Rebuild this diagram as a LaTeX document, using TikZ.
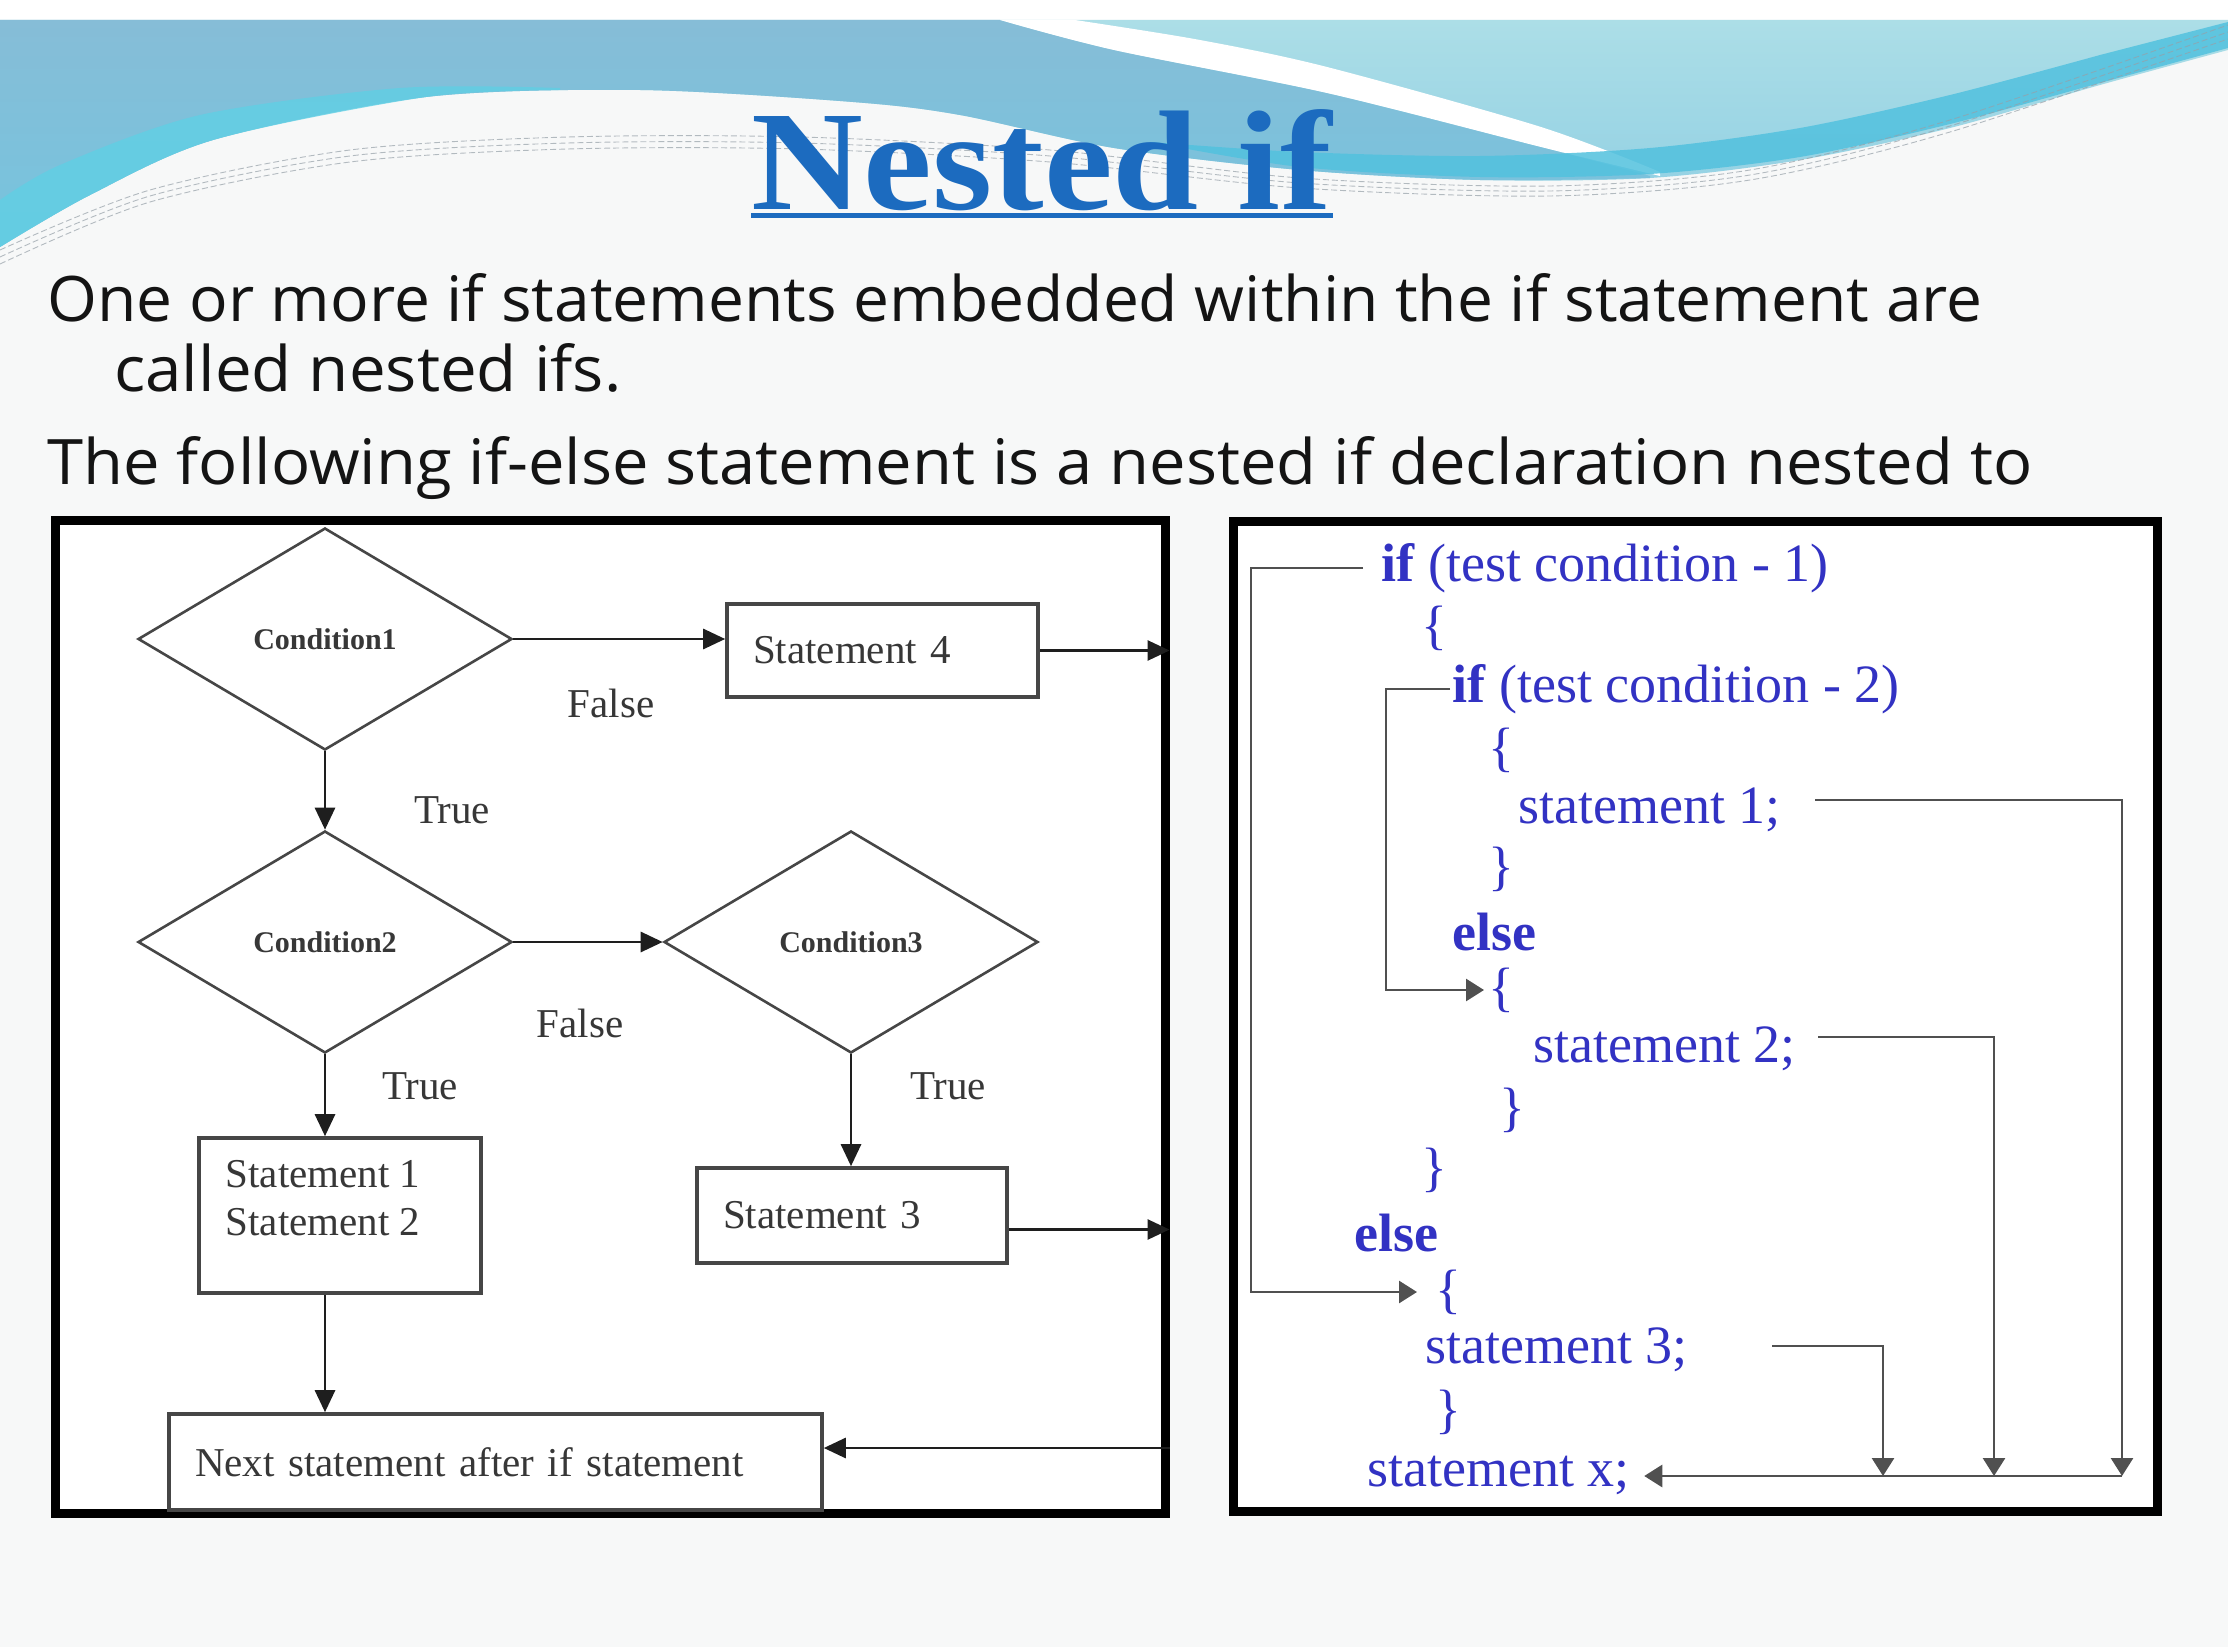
\documentclass[tikz,border=0pt]{standalone}
\usepackage{fontspec}
\setmainfont{Liberation Serif}
\newfontfamily\bodyfont{Open Sans}
\usepackage{graphicx}
\usetikzlibrary{shapes.geometric,arrows.meta,calc}

\definecolor{pagebg}{RGB}{247,248,248}
\definecolor{bannerblue}{RGB}{134,189,215}
\definecolor{bannerblue2}{RGB}{118,196,222}
\definecolor{lightcyan}{RGB}{172,222,231}
\definecolor{lightcyan2}{RGB}{140,205,226}
\definecolor{cyanband}{RGB}{82,193,222}
\definecolor{leftcyan}{RGB}{96,207,228}
\definecolor{decoline}{RGB}{150,160,168}
\definecolor{titleblue}{RGB}{28,107,191}
\definecolor{bodyblack}{RGB}{20,20,20}
\definecolor{flowgray}{RGB}{55,55,55}
\definecolor{flowline}{RGB}{70,70,70}
\definecolor{flowarrow}{RGB}{30,30,30}
\definecolor{codeblue}{RGB}{50,50,195}
\definecolor{codeline}{RGB}{80,80,80}

\begin{document}
\begin{tikzpicture}[x=0.5pt,y=-0.5pt,
  outerframe/.style={draw=black, line width=4.5pt, fill=white, inner sep=0pt},
  dia/.style={diamond, draw=flowline, line width=1.3pt, fill=white, minimum width=187pt, minimum height=111pt, inner sep=0pt, font=\bfseries\fontsize{15}{18}\selectfont, text=flowgray},
  flowbox/.style={rectangle, draw=flowline, line width=1.8pt, fill=white, inner xsep=13pt, inner ysep=0pt, align=left, font=\fontsize{20.5}{24}\selectfont, text=flowgray},
  flowtxt/.style={font=\fontsize{20.5}{24}\selectfont, text=flowgray, inner sep=0pt},
  farr/.style={draw=flowarrow, line width=1.4pt, -{Triangle[length=11pt,width=10pt]}},
  codetxt/.style={anchor=west, inner sep=0pt, text=codeblue, font=\fontsize{27}{32}\selectfont},
  cline/.style={draw=codeline, line width=1.4pt},
  ctip/.style={-{Triangle[length=9pt,width=11pt]}},
  bodytxt/.style={anchor=base west, inner sep=0pt, text=bodyblack},
  deco/.style={draw=decoline, line width=0.45pt, opacity=0.7, dash pattern=on 3pt off 1.5pt}
]
\useasboundingbox (0,0) rectangle (2228,1647);
\fill[pagebg] (0,0) rectangle (2228,1647);
\fill[white] (0,0) rectangle (2228,20);

% ---------- banner ----------
\shade[top color=lightcyan, bottom color=lightcyan2] (0,20) -- (2228,20) --
  plot[smooth] coordinates {(2228,50) (2100,85) (1950,128) (1800,160) (1650,178) (1480,180) (1300,170) (1114,148) (960,115) (853,102) (640,90) (426,97) (213,140) (90,195) (0,247)} -- cycle;
\shade[top color=bannerblue, bottom color=bannerblue2] (0,20) -- (1000,20) --
  plot[smooth] coordinates {(1000,20) (1114,50) (1327,93) (1541,147) (1650,176)} --
  plot[smooth] coordinates {(1650,178) (1480,180) (1300,170) (1114,148) (960,115) (853,102) (640,90) (426,97) (213,140) (90,195) (0,247)} -- cycle;
\fill[white] plot[smooth] coordinates {(1000,20) (1114,50) (1327,93) (1541,147) (1660,176)} --
  plot[smooth] coordinates {(1660,172) (1541,127) (1327,67) (1200,40) (1075,20)} -- cycle;
\fill[leftcyan, opacity=0.8] plot[smooth] coordinates {(0,247) (90,195) (213,140) (426,97) (560,90)} --
  plot[smooth] coordinates {(560,88) (400,88) (200,115) (60,165) (0,200)} -- cycle;
\fill[cyanband, opacity=0.85] plot[smooth] coordinates {(1150,142) (1300,167) (1480,177) (1650,174) (1800,157) (1950,124) (2100,83) (2228,48)} --
  (2228,22) -- plot[smooth] coordinates {(2100,55) (1950,95) (1800,128) (1650,148) (1480,156) (1300,152) (1150,142)} -- cycle;
\draw[deco] plot[smooth] coordinates {(0,250) (150,190) (350,150) (568,137) (800,137) (1050,150) (1300,178) (1550,186) (1750,170) (1950,120) (2228,25)};
\draw[deco] plot[smooth] coordinates {(0,257) (150,196) (350,156) (568,143) (800,143) (1050,156) (1300,183) (1550,191) (1750,175) (1950,126) (2228,32)};
\draw[deco] plot[smooth] coordinates {(0,264) (150,202) (350,162) (568,149) (800,149) (1050,162) (1300,188) (1550,196) (1750,180) (1950,132) (2228,39)};

% ---------- title ----------
\node[anchor=base, inner sep=0pt, text=titleblue] (title) at (1042,210)
  {\scalebox{1.09}[1]{\fontsize{71}{80}\selectfont\bfseries Nested if}};
\draw[titleblue, line width=2.5pt] ([yshift=-3pt]title.base west) -- ([yshift=-3pt]title.base east);

% ---------- body text ----------
\node[bodytxt] (line1) at (47,322) {\resizebox{967.5pt}{24pt}{\bodyfont One or more if statements embedded within the if statement are}};
\node[bodytxt] (line2) at (114,392) {\resizebox{253.5pt}{24pt}{\bodyfont called nested ifs.}};
\node[bodytxt] (line3) at (47,485) {\resizebox{992.5pt}{24pt}{\bodyfont The following if-else statement is a nested if declaration nested to}};

% ---------- frames ----------
\node[outerframe, minimum width=555pt, minimum height=496pt] (lf) at (610,1017) {};
\node[outerframe, minimum width=462pt, minimum height=494.5pt] (rf) at (1695,1016.5) {};

% ---------- flowchart ----------
\node[dia] (c1) at (325,639) {Condition1};
\node[dia] (c2) at (325,942) {Condition2};
\node[dia] (c3) at (851,942) {Condition3};
\node[flowbox, minimum width=155.5pt, text width=129.5pt, minimum height=46.5pt] (s4) at (882.5,650.5) {Statement 4};
\node[flowbox, minimum width=141pt, minimum height=77.5pt] (s12) at (340,1215.5) {};
\node[flowtxt, anchor=north west, align=left] (s12t) at ([xshift=14pt,yshift=-12pt]s12.north west) {Statement 1\\Statement 2};
\node[flowbox, minimum width=155pt, text width=129pt, minimum height=47.5pt] (s3) at (852,1215.5) {Statement 3};
\node[flowbox, minimum width=326.5pt, text width=300.5pt, minimum height=48pt] (nx) at (495.5,1462) {Next statement after if statement};

\node[flowtxt] (f1) at (611,703) {False};
\node[flowtxt] (t1) at (452,810) {True};
\node[flowtxt] (f2) at (580,1023) {False};
\node[flowtxt] (t2) at (420,1086) {True};
\node[flowtxt] (t3) at (948,1086) {True};

\draw[farr] (c1.east) -- (c1.east -| s4.west);
\draw[farr] (s4.east) -- (s4.east -| lf.east);
\draw[farr] (c1.south) -- (c2.north);
\draw[farr] (c2.east) -- (c3.west);
\draw[farr] (c2.south) -- (c2.south |- s12.north);
\draw[farr] (c3.south) -- (c3.south |- s3.north);
\draw[farr] ([yshift=-7pt]s3.east) -- ([yshift=-7pt]s3.east -| lf.east);
\draw[farr] (c2.south |- s12.south) -- (c2.south |- nx.north);
\draw[farr] ([yshift=7pt]nx.east -| lf.east) -- ([yshift=7pt]nx.east);

% ---------- code ----------
\node[codetxt] (if1) at (1381,568) {\textbf{if} (test condition - 1)};
\node[codetxt] (ob1) at (1421,628) {\{};
\node[codetxt] (if2) at (1452,689) {\textbf{if} (test condition - 2)};
\node[codetxt] (ib1) at (1488,750) {\{};
\node[codetxt] (st1) at (1518,810) {statement 1;};
\node[codetxt] (cb1) at (1488,869) {\}};
\node[codetxt] (el1) at (1452,932) {\textbf{else}};
\node[codetxt] (ib2) at (1488,990) {\{};
\node[codetxt] (st2) at (1533,1049) {statement 2;};
\node[codetxt] (cb2) at (1499,1110) {\}};
\node[codetxt] (cb3) at (1421,1170) {\}};
\node[codetxt] (el2) at (1354,1233) {\textbf{else}};
\node[codetxt] (ob2) at (1435,1292) {\{};
\node[codetxt] (st3) at (1425,1350) {statement 3;};
\node[codetxt] (cb4) at (1435,1412) {\}};
\node[codetxt] (stx) at (1367,1475) {statement x;};

\coordinate (k1) at (1251,900);
\coordinate (k2) at (1386,850);
\coordinate (b1) at (2122,1476);
\coordinate (b2) at (1994,1476);
\coordinate (b3) at (1883,1476);

\draw[cline, ctip, shorten <=9pt, shorten >=9pt] (if1.west) -| (k1) |- (ob2.west);
\draw[cline, ctip, shorten <=1pt, shorten >=2pt] (if2.west) -| (k2) |- (ib2.west);
\draw[cline, ctip, shorten <=17pt] ([yshift=5pt]st1.east) -| (b1);
\draw[cline, ctip, shorten <=11pt] ([yshift=6pt]st2.east) -| (b2);
\draw[cline, ctip, shorten <=42pt] ([yshift=2pt]st3.east) -| (b3);
\draw[cline, ctip, shorten >=7pt] (b1) -- (b1 -| stx.east);
\end{tikzpicture}
\end{document}
